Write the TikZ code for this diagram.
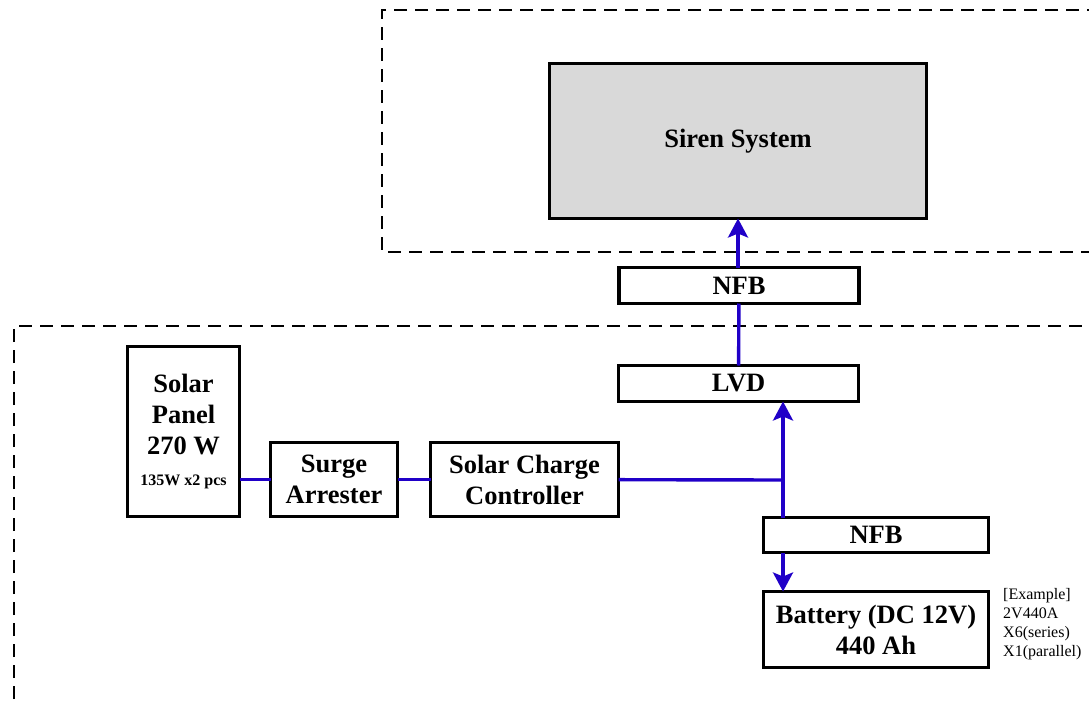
\documentclass[tikz,border=0pt]{standalone}
\usepackage{fontspec}
\setmainfont{Liberation Serif}
\usetikzlibrary{arrows.meta,positioning}
\definecolor{wireblue}{RGB}{32,0,200}

\begin{document}
\begin{tikzpicture}[
    x=1pt, y=-1pt,
    font=\fontsize{26.5}{31}\selectfont\bfseries,
    blk/.style={
      draw, line width=3.2pt, align=center, fill=white,
      inner sep=2pt, outer sep=0pt
    },
    grp/.style={
      draw, line width=1.5pt, dash pattern=on 13pt off 8pt
    },
    wire/.style={
      draw=wireblue, line width=3.4pt,
      -{Stealth[length=19pt,width=20pt,inset=4pt]}
    },
    plain/.style={draw=wireblue, line width=3.4pt},
    note/.style={
      font=\fontsize{16}{19}\selectfont, align=left,
      inner sep=0pt, anchor=north west
    }
  ]
    \clip (0,0) rectangle (1089,704);

    % dashed areas
    \draw[grp] (1100,10) -- (382,10) -- (382,252) -- (1100,252);
    \draw[grp] (14,720) -- (14,326) -- (1100,326);

    % blocks
    \node[blk, fill=gray!30, minimum width=377pt, minimum height=155pt]
      (siren) at (738,141) {Siren System};
    \node[blk, minimum width=240pt, minimum height=36pt]
      (nfbtop) at (739,285.5) {NFB};
    \node[blk, minimum width=240pt, minimum height=36pt]
      (lvd) at (738.5,383.5) {LVD};
    \node[blk, minimum width=112pt, minimum height=170pt]
      (panel) at (183.5,431.5)
      {Solar\\Panel\\270 W\\{\fontsize{16}{31}\selectfont 135W x2 pcs}};
    \node[blk, minimum width=127pt, minimum height=74pt]
      (surge) at (334,479.5) {Surge\\Arrester};
    \node[blk, minimum width=188pt, minimum height=74pt,
      right=33pt of surge] (scc) {Solar Charge\\Controller};
    \node[blk, minimum width=225pt, minimum height=35pt]
      (nfbbot) at (876,535) {NFB};
    \node[blk, minimum width=225pt, minimum height=76pt,
      below=39pt of nfbbot] (bat) {Battery (DC 12V)\\440 Ah};
    \node[note] (spec) at (1003,588)
      {[Example]\\2V440A\\X6(series)\\X1(parallel)};

    \coordinate (jn) at (783,480);

    % wiring
    \draw[plain] (panel.east |- surge) -- (surge);
    \draw[plain] (surge) -- (scc);
    \draw[plain] (scc) -- (jn);
    \draw[wire] (nfbbot.north -| jn) -- (lvd.south -| jn);
    \draw[wire] (nfbbot.south -| jn) -- (bat.north -| jn);
    \draw[plain] (lvd) -- (nfbtop);
    \draw[wire] (nfbtop.north -| siren) -- (siren.south);
  \end{tikzpicture}
\end{document}
